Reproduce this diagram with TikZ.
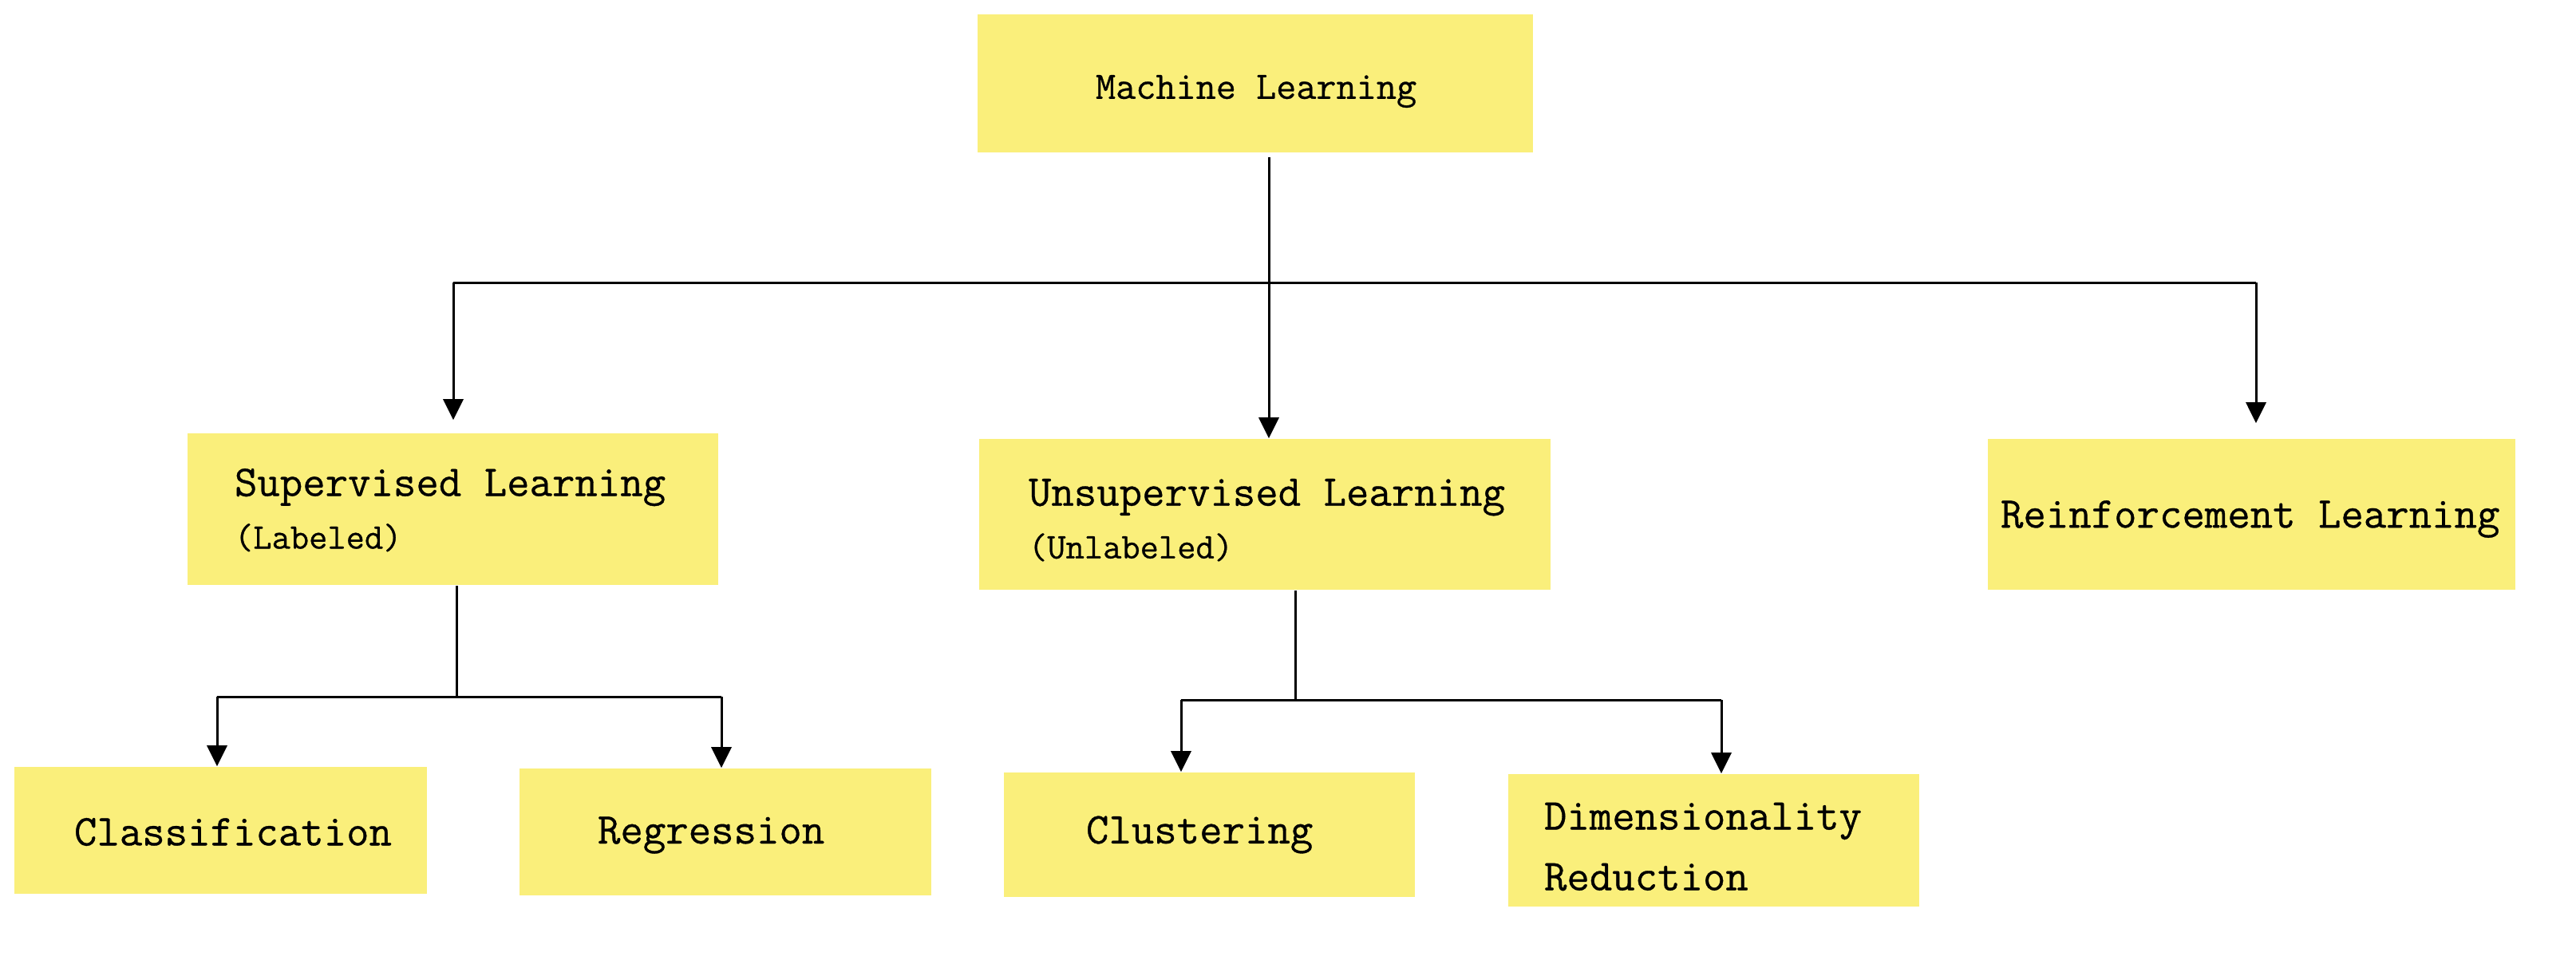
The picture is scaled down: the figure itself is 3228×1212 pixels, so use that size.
\documentclass[tikz,border=0pt]{standalone}
\usepackage{fontspec}
\usetikzlibrary{arrows.meta}
\newfontfamily\mlmono{Latin Modern Mono}[FakeBold=0.6]
\definecolor{mlyellow}{HTML}{FAEF7B}
\newcommand\mainsz{\fontsize{13.8}{19}\mlmono}
\newcommand\topsz{\fontsize{12.2}{15}\mlmono}
\newcommand\smallsz{\fontsize{11.3}{17}\mlmono}
\tikzset{
  box/.style={fill=mlyellow, inner sep=0pt, rectangle},
  lbl/.style={anchor=west, inner sep=0pt, align=left, font=\mainsz},
  conn/.style={draw=black, line width=0.75pt},
  arr/.style={conn, -{Triangle[length=6.5pt,width=6.25pt]}},
}
\begin{document}
\begin{tikzpicture}[x=0.25pt,y=-0.25pt]
\useasboundingbox (0,0) rectangle (3228,1212);
% boxes
\node[box, minimum width=174pt, minimum height=43.25pt] (ml) at (1573,104.5) {};
\node[box, minimum width=166.25pt, minimum height=47.5pt] (sup) at (567.5,638) {};
\node[box, minimum width=179pt, minimum height=47.25pt] (uns) at (1585,644.5) {};
\node[box, minimum width=165.25pt, minimum height=47.25pt] (rl) at (2821.5,644.5) {};
\node[box, minimum width=129.25pt, minimum height=39.75pt] (cls) at (276.5,1040.5) {};
\node[box, minimum width=129pt, minimum height=39.75pt] (reg) at (909,1042.5) {};
\node[box, minimum width=128.75pt, minimum height=39pt] (clu) at (1515.5,1046) {};
\node[box, minimum width=128.75pt, minimum height=41.5pt] (dr) at (2147.5,1053) {};
% labels
\node[lbl, font=\topsz] (mlt) at ([xshift=37pt,yshift=-2.5pt]ml.west) {Machine Learning};
\node[lbl] (supt) at ([xshift=14.75pt,yshift=-0.3pt]sup.west) {Supervised Learning\\[-2.5pt]{\smallsz (Labeled)}};
\node[lbl] (unst) at ([xshift=15.5pt,yshift=-1.8pt]uns.west) {Unsupervised Learning\\[-2.5pt]{\smallsz (Unlabeled)}};
\node[lbl] (rlt) at ([xshift=4pt,yshift=-1.5pt]rl.west) {Reinforcement Learning};
\node[lbl] (clst) at ([xshift=18.75pt,yshift=-0.5pt]cls.west) {Classification};
\node[lbl] (regt) at ([xshift=24.5pt,yshift=-1pt]reg.west) {Regression};
\node[lbl] (clut) at ([xshift=25.75pt]clu.west) {Clustering};
\node[lbl] (drt) at ([xshift=11.25pt,yshift=-2pt]dr.west) {Dimensionality\\Reduction};
% junction coordinates
\coordinate (j0) at (1590,354);
\coordinate (hl) at (568,354);
\coordinate (hr) at (2827,354);
\coordinate (j1) at (572,873);
\coordinate (s1) at (272,873);
\coordinate (s2) at (904,873);
\coordinate (j2) at (1623,877);
\coordinate (c1) at (1480,877);
\coordinate (c2) at (2157,877);
% connectors: level 1
\draw[arr, shorten <=1.25pt] (ml.south -| j0) -- (uns.north -| j0);
\draw[conn] (hl) -- (hr);
\draw[arr, shorten >=4pt] (hl) -- (hl |- sup.north);
\draw[arr, shorten >=4.75pt] (hr) -- (hr |- rl.north);
% connectors: supervised
\draw[conn] (sup.south -| j1) -- (j1);
\draw[conn] (s1) -- (s2);
\draw[arr] (s1) -- (s1 |- cls.north);
\draw[arr] (s2) -- (s2 |- reg.north);
% connectors: unsupervised
\draw[conn] (uns.south -| j2) -- (j2);
\draw[conn] (c1) -- (c2);
\draw[arr] (c1) -- (c1 |- clu.north);
\draw[arr] (c2) -- (c2 |- dr.north);
\end{tikzpicture}
\end{document}
